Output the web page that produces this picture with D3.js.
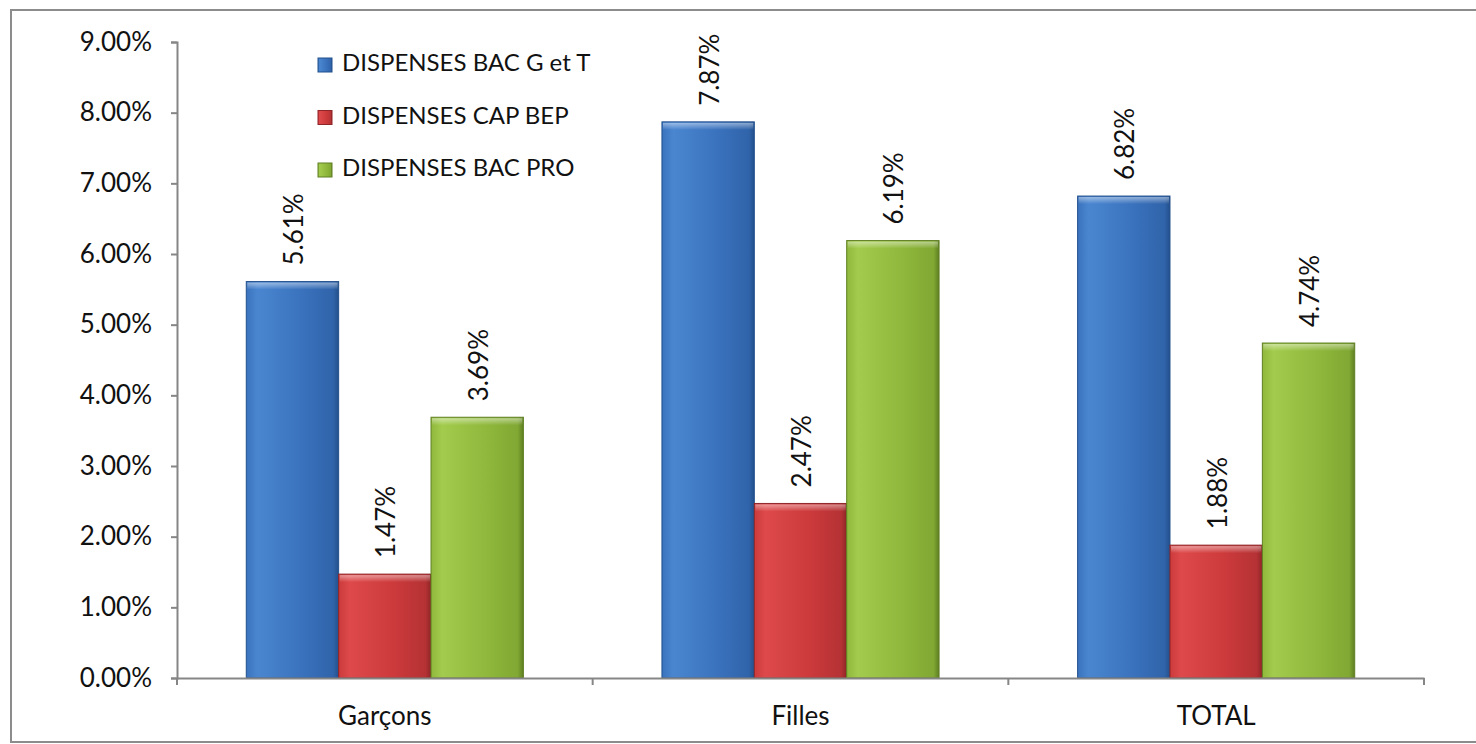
<!DOCTYPE html>
<html><head><meta charset="utf-8">
<script src="https://cdn.jsdelivr.net/npm/d3@7"></script>
<style>
html,body{margin:0;padding:0;background:#fff;}
svg{display:block;font-family:Lato, "Open Sans", sans-serif;}
</style></head>
<body><svg id="c" width="1476" height="744"></svg>
<script>
const categories = ["Garçons", "Filles", "TOTAL"];
const series = ["DISPENSES BAC G et T", "DISPENSES CAP BEP", "DISPENSES BAC PRO"];
const bacGT = [0.0561, 0.0787, 0.0682];
const capBep = [0.0147, 0.0247, 0.0188];
const bacPro = [0.0369, 0.0619, 0.0474];
const yTicks = [0, 0.01, 0.02, 0.03, 0.04, 0.05, 0.06, 0.07, 0.08, 0.09];
const values = [bacGT, capBep, bacPro];
const colors = [
  {light:"#4a86d0", mid:"#3a72bd", dark:"#3064aa", stroke:"#23508c"},
  {light:"#de4a4c", mid:"#cc3a3c", dark:"#b53234", stroke:"#8f2527"},
  {light:"#a3cc4e", mid:"#8fb83c", dark:"#80a833", stroke:"#5f7f22"}
];

const svg = d3.select("#c");
svg.append("rect").attr("x",11).attr("y",10).attr("width",1480).attr("height",732)
  .attr("fill","#fff").attr("stroke","#8c8c8c").attr("stroke-width",2);

const defs = svg.append("defs");
colors.forEach((c,i)=>{
  const g = defs.append("linearGradient").attr("id","g"+i).attr("x1","0").attr("x2","1").attr("y1","0").attr("y2","0");
  g.append("stop").attr("offset","0").attr("stop-color",c.mid);
  g.append("stop").attr("offset","0.12").attr("stop-color",c.light);
  g.append("stop").attr("offset","0.6").attr("stop-color",c.mid);
  g.append("stop").attr("offset","0.94").attr("stop-color",c.dark);
  g.append("stop").attr("offset","1").attr("stop-color",c.stroke);
});
const hg = defs.append("linearGradient").attr("id","hl").attr("x1","0").attr("x2","0").attr("y1","0").attr("y2","1");
hg.append("stop").attr("offset","0").attr("stop-color","#fff").attr("stop-opacity",0.45);
hg.append("stop").attr("offset","1").attr("stop-color","#fff").attr("stop-opacity",0);

const x0 = d3.scaleBand().domain(categories).range([177, 1424]).paddingInner(0).paddingOuter(0);
const x1 = d3.scaleBand().domain(series).range([0, x0.bandwidth()]).paddingInner(0).paddingOuter(0.75);
const y = d3.scaleLinear().domain([0, 0.09]).range([678, 42]);

const groups = svg.append("g").selectAll("g").data(categories).join("g")
  .attr("transform", d => `translate(${x0(d)},0)`);
groups.each(function(cat, ci){
  const g = d3.select(this);
  series.forEach((s, si)=>{
    const v = values[si][ci];
    const bx = x1(s), bw = x1.bandwidth(), by = y(v), bh = y(0) - y(v);
    g.append("rect").attr("x",bx).attr("y",by).attr("width",bw).attr("height",bh)
      .attr("fill",`url(#g${si})`).attr("stroke",colors[si].stroke).attr("stroke-width",1);
    g.append("rect").attr("x",bx+1).attr("y",by+1).attr("width",bw-2).attr("height",Math.min(7,bh-2))
      .attr("fill","url(#hl)");
    const lx = bx + bw/2 + 4, ly = by - 16;
    g.append("text").attr("transform",`translate(${lx},${ly}) rotate(-90)`)
      .attr("text-anchor","start").attr("dominant-baseline","middle")
      .attr("font-size",26).attr("fill","#111").text(d3.format(".2%")(v));
  });
});

const yAxis = svg.append("g").attr("transform","translate(177,0)")
  .call(d3.axisLeft(y).tickValues(yTicks).tickFormat(d3.format(".2%")).tickSize(6).tickPadding(19));
yAxis.select(".domain").attr("stroke","#868686").attr("stroke-width",2);
yAxis.selectAll(".tick line").attr("stroke","#868686").attr("stroke-width",2);
yAxis.selectAll("text").attr("font-size",26).attr("fill","#111").attr("font-family","Lato, 'Open Sans', sans-serif");

const xAxis = svg.append("g").attr("transform","translate(0,678)")
  .call(d3.axisBottom(x0).tickSize(0).tickPadding(29));
xAxis.select(".domain").attr("stroke","#868686").attr("stroke-width",2);
xAxis.selectAll("text").attr("font-size",26).attr("fill","#111").attr("font-family","Lato, 'Open Sans', sans-serif");
const bounds = [...categories.map(c=>x0(c)), x0(categories[categories.length-1]) + x0.bandwidth()];
svg.append("g").selectAll("line").data(bounds).join("line")
  .attr("x1",d=>d).attr("x2",d=>d).attr("y1",678).attr("y2",685)
  .attr("stroke","#868686").attr("stroke-width",2);

const legend = svg.append("g").attr("transform","translate(318,65)");
series.forEach((s,i)=>{
  const row = legend.append("g").attr("transform",`translate(0,${i*52.5})`);
  row.append("rect").attr("x",0).attr("y",-7).attr("width",14).attr("height",14)
    .attr("fill",`url(#g${i})`).attr("stroke",colors[i].stroke).attr("stroke-width",1);
  row.append("text").attr("x",24).attr("y",0).attr("dominant-baseline","middle")
    .attr("font-size",24).attr("fill","#111").text(s);
});
</script></body></html>
